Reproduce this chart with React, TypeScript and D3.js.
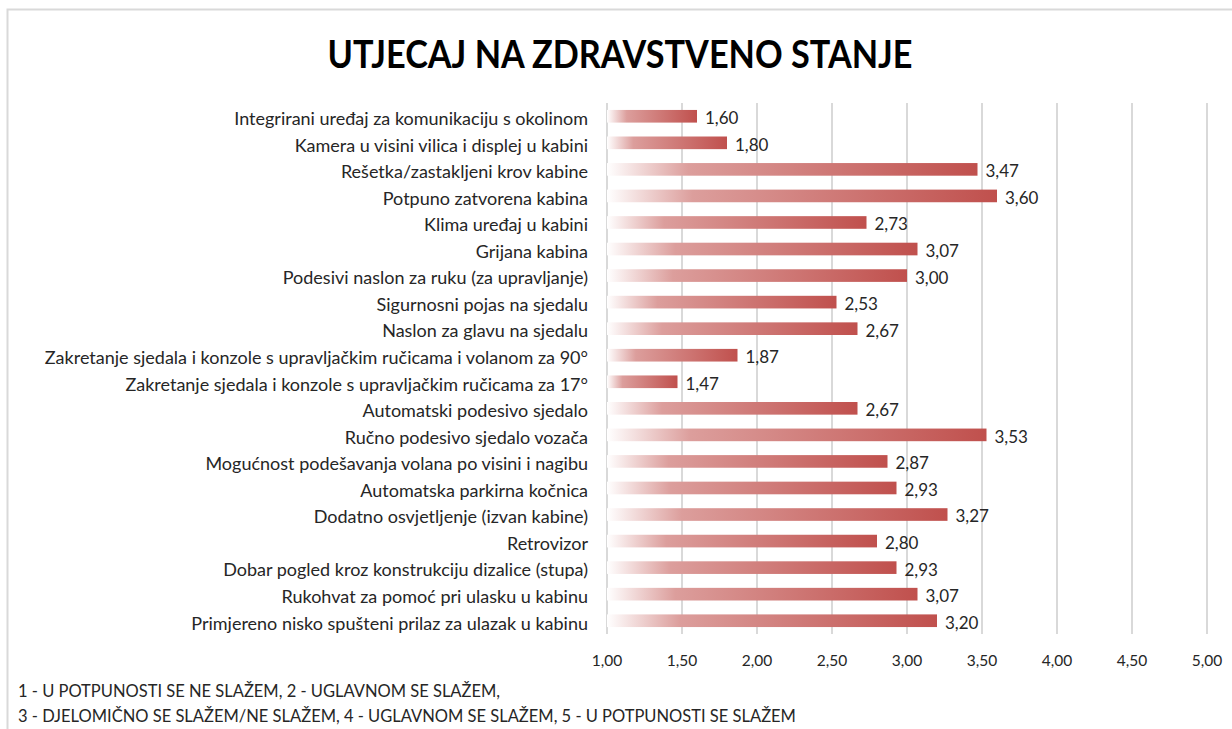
import React, { useEffect, useRef } from "react";
import * as d3 from "d3";

const categories: string[] = [
  "Integrirani uređaj za komunikaciju s okolinom",
  "Kamera u visini vilica i displej u kabini",
  "Rešetka/zastakljeni krov kabine",
  "Potpuno zatvorena kabina",
  "Klima uređaj u kabini",
  "Grijana kabina",
  "Podesivi naslon za ruku (za upravljanje)",
  "Sigurnosni pojas na sjedalu",
  "Naslon za glavu na sjedalu",
  "Zakretanje sjedala i konzole s upravljačkim ručicama i volanom za 90°",
  "Zakretanje sjedala i konzole s upravljačkim ručicama za 17°",
  "Automatski podesivo sjedalo",
  "Ručno podesivo sjedalo vozača",
  "Mogućnost podešavanja volana po visini i nagibu",
  "Automatska parkirna kočnica",
  "Dodatno osvjetljenje (izvan kabine)",
  "Retrovizor",
  "Dobar pogled kroz konstrukciju dizalice (stupa)",
  "Rukohvat za pomoć pri ulasku u kabinu",
  "Primjereno nisko spušteni prilaz za ulazak u kabinu",
];

const values: number[] = [
  1.6, 1.8, 3.47, 3.6, 2.73, 3.07, 3.0, 2.53, 2.67, 1.87, 1.47, 2.67, 3.53, 2.87,
  2.93, 3.27, 2.8, 2.93, 3.07, 3.2,
];

const xTicks: number[] = [1, 1.5, 2, 2.5, 3, 3.5, 4, 4.5, 5];

const title = "UTJECAJ NA ZDRAVSTVENO STANJE";
const footnoteLines: string[] = [
  "1 - U POTPUNOSTI SE NE SLAŽEM, 2 - UGLAVNOM SE SLAŽEM,",
  "3 - DJELOMIČNO SE SLAŽEM/NE SLAŽEM, 4 - UGLAVNOM SE SLAŽEM, 5 - U POTPUNOSTI SE SLAŽEM",
];

const W = 1232;
const H = 729;
const FONT = "Lato, 'Open Sans', sans-serif";

export default function App() {
  const ref = useRef<SVGSVGElement | null>(null);

  useEffect(() => {
    const svg = d3.select(ref.current);
    svg.selectAll("*").remove();

    const plot = { left: 607, right: 1207, top: 103, bottom: 634 };
    const fmt = (v: number) => v.toFixed(2).replace(".", ",");

    const x = d3.scaleLinear().domain([1, 5]).range([plot.left, plot.right]);
    const y = d3
      .scaleBand<string>()
      .domain(categories)
      .range([plot.top, plot.bottom])
      .paddingInner(110 / 210)
      .paddingOuter(55 / 210);

    const defs = svg.append("defs");
    const grad = defs
      .append("linearGradient")
      .attr("id", "barGrad")
      .attr("x1", "0%")
      .attr("x2", "100%")
      .attr("y1", "0%")
      .attr("y2", "0%");
    grad.append("stop").attr("offset", "0%").attr("stop-color", "#ffffff");
    grad.append("stop").attr("offset", "22%").attr("stop-color", "#dc9e9c");
    grad.append("stop").attr("offset", "100%").attr("stop-color", "#c0504d");

    svg.append("rect").attr("x", 0).attr("y", 0).attr("width", W).attr("height", H).attr("fill", "#fff");

    // chart border
    svg
      .append("path")
      .attr("d", `M7.5,${H + 5} L7.5,9.5 L${W + 5},9.5`)
      .attr("fill", "none")
      .attr("stroke", "#d9d9d9")
      .attr("stroke-width", 2);

    // title
    svg
      .append("text")
      .attr("x", 620)
      .attr("y", 68)
      .attr("text-anchor", "middle")
      .attr("font-family", FONT)
      .attr("font-weight", 700)
      .attr("font-size", 38)
      .attr("textLength", 585)
      .attr("lengthAdjust", "spacingAndGlyphs")
      .attr("fill", "#000")
      .text(title);

    // gridlines
    svg
      .append("g")
      .selectAll("line")
      .data(xTicks)
      .join("line")
      .attr("x1", (d) => x(d))
      .attr("x2", (d) => x(d))
      .attr("y1", plot.top)
      .attr("y2", plot.bottom)
      .attr("stroke", "#d9d9d9")
      .attr("stroke-width", 2);

    // tick labels
    svg
      .append("g")
      .selectAll("text")
      .data(xTicks)
      .join("text")
      .attr("x", (d) => x(d))
      .attr("y", 666)
      .attr("text-anchor", "middle")
      .attr("font-family", FONT)
      .attr("font-size", 15.5)
      .attr("fill", "#262626")
      .text((d) => fmt(d));

    const data = categories.map((c, i) => ({ c, v: values[i] }));

    // bars
    svg
      .append("g")
      .selectAll("rect")
      .data(data)
      .join("rect")
      .attr("x", x(1))
      .attr("y", (d) => y(d.c)!)
      .attr("width", (d) => x(d.v) - x(1))
      .attr("height", y.bandwidth())
      .attr("fill", "url(#barGrad)");

    // category labels
    svg
      .append("g")
      .selectAll("text")
      .data(data)
      .join("text")
      .attr("x", 588)
      .attr("y", (d) => y(d.c)! + y.bandwidth() / 2 + 2.5)
      .attr("dy", "0.35em")
      .attr("text-anchor", "end")
      .attr("font-family", FONT)
      .attr("font-size", 18)
      .attr("fill", "#262626")
      .text((d) => d.c);

    // value labels
    svg
      .append("g")
      .selectAll("text")
      .data(data)
      .join("text")
      .attr("x", (d) => x(d.v) + 8)
      .attr("y", (d) => y(d.c)! + y.bandwidth() / 2 + 2)
      .attr("dy", "0.35em")
      .attr("font-family", FONT)
      .attr("font-size", 17)
      .attr("fill", "#262626")
      .text((d) => fmt(d.v));

    // footnote
    svg
      .append("g")
      .selectAll("text")
      .data(footnoteLines)
      .join("text")
      .attr("x", 18)
      .attr("y", (_d, i) => 697 + i * 25)
      .attr("font-family", FONT)
      .attr("font-size", 16.5)
      .attr("fill", "#262626")
      .text((d) => d);
  }, []);

  return (
    <svg
      ref={ref}
      width={W}
      height={H}
      style={{ position: "absolute", left: 0, top: 0, display: "block" }}
    />
  );
}
